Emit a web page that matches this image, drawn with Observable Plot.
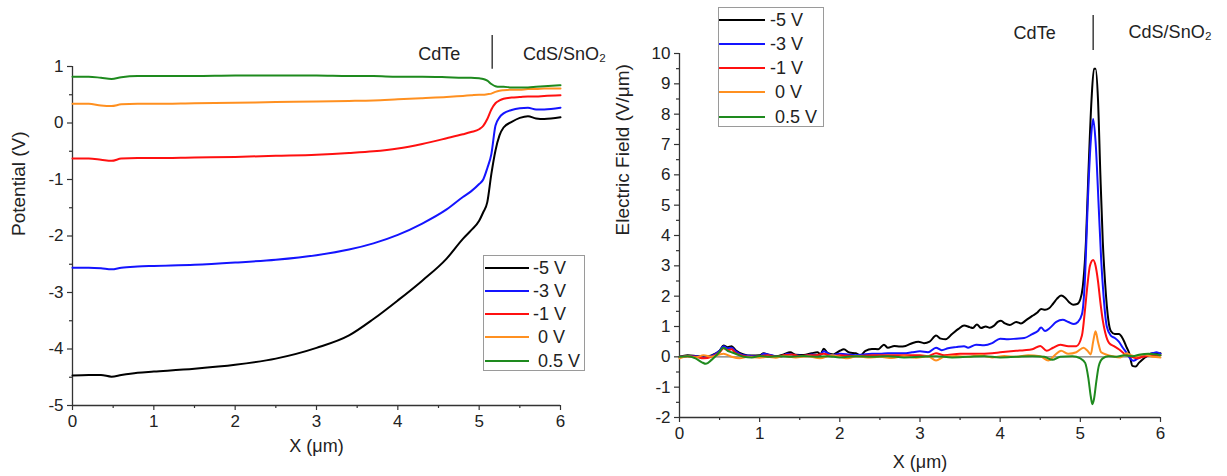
<!DOCTYPE html>
<html>
<head>
<meta charset="utf-8">
<script src="https://cdn.jsdelivr.net/npm/d3@7"></script>
<script src="https://cdn.jsdelivr.net/npm/@observablehq/plot@0.6"></script>
<style>
  html, body { margin: 0; padding: 0; background: #fff; }
  #wrap { position: relative; width: 1227px; height: 476px; overflow: hidden; font-family: "Liberation Sans", Arial, sans-serif; }
  .panel { position: absolute; top: 0; }
  .legend { position: absolute; border: 1px solid #9a9a9a; background: #fff; box-sizing: border-box; }
  .row { position: absolute; left: 0; height: 22px; display: flex; align-items: center; }
  .swatch { height: 2px; }
  .lab { white-space: pre; font-size: 18px; color: #222; line-height: 22px; }
</style>
</head>
<body>
<div id="wrap"></div>
<script>
// ---------------- data ----------------
const seriesLabels = ["-5 V", "-3 V", "-1 V", " 0 V", " 0.5 V"];
const seriesColors = ["#000000", "#1414ff", "#ff1010", "#ff9020", "#1e8a1e"];

// Left panel: potential (V) vs X (um)
const potX = [0, 0.2, 0.35, 0.48, 0.6, 0.8, 1.0, 1.5, 2.0, 2.5, 3.0, 3.4, 3.7, 4.0, 4.3, 4.6, 4.8, 4.9, 5.0, 5.05, 5.1, 5.15, 5.2, 5.25, 5.3, 5.4, 5.5, 5.6, 5.7, 5.8, 6.0];
const pot_m5 = [-4.47, -4.46, -4.46, -4.49, -4.46, -4.42, -4.40, -4.35, -4.28, -4.17, -3.98, -3.76, -3.47, -3.14, -2.79, -2.40, -2.05, -1.90, -1.73, -1.58, -1.40, -0.90, -0.49, -0.22, -0.08, 0.02, 0.09, 0.12, 0.08, 0.07, 0.10];
const pot_m3 = [-2.56, -2.56, -2.57, -2.59, -2.56, -2.54, -2.53, -2.51, -2.47, -2.42, -2.34, -2.24, -2.13, -1.98, -1.78, -1.53, -1.31, -1.21, -1.08, -1.00, -0.80, -0.55, -0.05, 0.10, 0.17, 0.23, 0.26, 0.27, 0.24, 0.24, 0.27];
const pot_m1 = [-0.63, -0.63, -0.65, -0.67, -0.63, -0.62, -0.62, -0.61, -0.60, -0.58, -0.56, -0.53, -0.50, -0.45, -0.37, -0.27, -0.20, -0.16, -0.11, -0.05, 0.07, 0.24, 0.35, 0.40, 0.43, 0.45, 0.46, 0.47, 0.47, 0.48, 0.49];
const pot_0  = [0.34, 0.34, 0.31, 0.30, 0.33, 0.34, 0.34, 0.35, 0.36, 0.37, 0.38, 0.39, 0.40, 0.42, 0.44, 0.46, 0.48, 0.49, 0.50, 0.50, 0.51, 0.52, 0.55, 0.57, 0.58, 0.59, 0.59, 0.60, 0.60, 0.61, 0.61];
const pot_05 = [0.82, 0.82, 0.80, 0.78, 0.81, 0.83, 0.83, 0.83, 0.84, 0.84, 0.84, 0.83, 0.83, 0.82, 0.82, 0.81, 0.80, 0.80, 0.79, 0.78, 0.75, 0.69, 0.65, 0.64, 0.64, 0.63, 0.63, 0.63, 0.64, 0.65, 0.67];

// Right panel: electric field (V/um) vs X (um), [x, E] pairs
const field_m5 = [[0,0],[0.1,0.05],[0.2,0.03],[0.3,0.0],[0.4,0.05],[0.5,0.2],[0.55,0.37],[0.6,0.32],[0.65,0.35],[0.7,0.22],[0.8,0.08],[0.9,0.04],[1.0,0.05],[1.05,0.12],[1.1,0.08],[1.2,0.02],[1.3,0.08],[1.38,0.15],[1.45,0.07],[1.55,0.06],[1.65,0.12],[1.72,0.15],[1.76,0.09],[1.8,0.27],[1.85,0.12],[1.92,0.08],[2.0,0.2],[2.05,0.25],[2.12,0.14],[2.2,0.12],[2.26,0.05],[2.32,0.2],[2.4,0.26],[2.48,0.25],[2.55,0.4],[2.6,0.3],[2.68,0.36],[2.75,0.34],[2.82,0.36],[2.9,0.45],[2.98,0.5],[3.05,0.45],[3.12,0.5],[3.2,0.7],[3.26,0.6],[3.32,0.58],[3.4,0.75],[3.48,0.92],[3.55,1.03],[3.62,0.98],[3.66,0.95],[3.71,1.07],[3.76,0.95],[3.82,1.0],[3.87,0.96],[3.92,1.02],[3.97,1.15],[4.01,1.19],[4.06,1.1],[4.12,1.05],[4.2,1.15],[4.26,1.1],[4.32,1.2],[4.4,1.35],[4.46,1.45],[4.51,1.58],[4.56,1.55],[4.61,1.6],[4.66,1.75],[4.71,1.92],[4.76,2.02],[4.81,1.95],[4.86,1.8],[4.91,1.72],[4.96,1.74],[5.0,1.9],[5.03,2.3],[5.07,3.8],[5.1,6.0],[5.14,8.5],[5.17,9.5],[5.19,9.5],[5.22,8.5],[5.25,6.0],[5.28,3.8],[5.31,2.4],[5.35,1.2],[5.38,0.85],[5.43,0.75],[5.48,0.75],[5.53,0.6],[5.58,0.3],[5.61,0.12],[5.65,-0.3],[5.69,-0.32],[5.73,-0.2],[5.78,-0.08],[5.83,0.02],[5.9,0.12],[5.95,0.1],[6.0,0.12]];
const field_m3 = [[0,0],[0.1,0.03],[0.2,0.02],[0.3,-0.02],[0.4,0.03],[0.5,0.2],[0.55,0.35],[0.6,0.28],[0.65,0.3],[0.7,0.18],[0.8,0.05],[0.9,0.03],[1.0,0.02],[1.05,0.1],[1.15,0.05],[1.25,0.0],[1.35,0.1],[1.45,0.05],[1.55,0.03],[1.65,0.08],[1.75,0.05],[1.8,0.18],[1.9,0.05],[2.0,0.1],[2.1,0.08],[2.2,0.05],[2.3,0.08],[2.4,0.1],[2.5,0.1],[2.6,0.12],[2.7,0.12],[2.8,0.12],[2.9,0.15],[3.0,0.18],[3.1,0.15],[3.2,0.3],[3.27,0.22],[3.35,0.28],[3.45,0.32],[3.55,0.35],[3.6,0.3],[3.7,0.4],[3.8,0.38],[3.9,0.45],[4.0,0.6],[4.1,0.58],[4.2,0.6],[4.3,0.62],[4.4,0.75],[4.47,0.85],[4.51,0.97],[4.56,0.85],[4.62,0.95],[4.7,1.15],[4.78,1.22],[4.85,1.15],[4.92,1.08],[4.97,1.15],[5.02,1.4],[5.06,2.7],[5.09,4.9],[5.13,7.1],[5.16,7.84],[5.19,7.1],[5.23,4.9],[5.26,3.2],[5.29,2.0],[5.33,1.0],[5.38,0.7],[5.43,0.62],[5.48,0.5],[5.53,0.3],[5.58,0.12],[5.62,-0.05],[5.66,-0.13],[5.72,-0.05],[5.8,0.05],[5.9,0.12],[5.95,0.15],[6.0,0.1]];
const field_m1 = [[0,0],[0.1,0.02],[0.2,0.0],[0.3,-0.05],[0.4,0.0],[0.5,0.15],[0.55,0.28],[0.6,0.22],[0.65,0.25],[0.7,0.12],[0.8,0.03],[0.9,0.0],[1.0,0.02],[1.1,0.05],[1.2,0.0],[1.3,0.05],[1.4,0.08],[1.5,0.02],[1.6,0.05],[1.7,0.05],[1.8,0.1],[1.9,0.02],[2.0,0.05],[2.2,0.02],[2.4,0.05],[2.6,0.05],[2.8,0.05],[3.0,0.05],[3.1,0.02],[3.2,0.12],[3.3,0.05],[3.5,0.1],[3.7,0.1],[3.9,0.12],[4.0,0.15],[4.2,0.2],[4.3,0.22],[4.4,0.25],[4.5,0.36],[4.58,0.2],[4.66,0.3],[4.75,0.4],[4.85,0.35],[4.95,0.35],[5.02,0.7],[5.06,1.6],[5.09,2.4],[5.12,3.0],[5.16,3.19],[5.19,3.0],[5.22,2.5],[5.25,1.8],[5.28,1.2],[5.31,0.8],[5.36,0.45],[5.42,0.35],[5.48,0.25],[5.55,0.1],[5.62,0.02],[5.7,-0.05],[5.78,0.0],[5.9,0.05],[6.0,0.05]];
const field_0  = [[0,-0.05],[0.1,0.02],[0.2,-0.02],[0.3,0.05],[0.4,0.0],[0.5,0.08],[0.55,0.1],[0.65,0.0],[0.75,-0.05],[0.85,0.0],[1.0,-0.03],[1.1,0.0],[1.2,-0.03],[1.3,0.03],[1.45,-0.02],[1.6,0.02],[1.75,-0.05],[1.9,0.05],[2.0,0.0],[2.1,-0.05],[2.2,0.02],[2.35,-0.02],[2.5,0.0],[2.65,-0.04],[2.8,0.02],[2.95,-0.03],[3.1,0.02],[3.2,-0.12],[3.3,0.0],[3.45,0.03],[3.6,0.0],[3.75,0.05],[3.9,-0.02],[4.05,0.03],[4.2,0.0],[4.35,0.05],[4.5,0.02],[4.6,-0.12],[4.68,0.05],[4.76,0.2],[4.85,0.1],[4.95,0.15],[5.04,0.3],[5.09,0.2],[5.13,0.08],[5.16,0.5],[5.19,0.84],[5.22,0.5],[5.26,0.15],[5.32,0.08],[5.4,0.02],[5.5,-0.02],[5.58,0.12],[5.63,0.05],[5.7,0.02],[5.8,0.08],[5.9,0.0],[6.0,-0.02]];
const field_05 = [[0,0],[0.1,0.02],[0.2,-0.05],[0.28,-0.18],[0.33,-0.23],[0.4,-0.1],[0.48,0.1],[0.55,0.3],[0.6,0.2],[0.65,0.15],[0.7,0.1],[0.8,0.0],[0.9,-0.02],[1.0,0.03],[1.1,0.0],[1.25,0.02],[1.4,0.0],[1.55,0.03],[1.7,0.0],[1.85,0.02],[2.0,-0.02],[2.2,0.02],[2.4,0.0],[2.6,0.02],[2.8,-0.02],[3.0,0.0],[3.2,0.02],[3.4,-0.02],[3.6,0.0],[3.8,0.02],[4.0,-0.02],[4.2,0.0],[4.4,0.02],[4.55,0.0],[4.65,-0.1],[4.75,0.0],[4.9,0.02],[5.0,-0.05],[5.06,-0.2],[5.1,-0.7],[5.13,-1.3],[5.15,-1.56],[5.17,-1.4],[5.2,-0.8],[5.23,-0.3],[5.28,-0.05],[5.35,0.02],[5.45,0.0],[5.55,0.05],[5.65,0.02],[5.75,0.08],[5.85,0.1],[6.0,0.05]];

// tick values
const xTicks = [0, 1, 2, 3, 4, 5, 6];
const xMinor = [0.5, 1.5, 2.5, 3.5, 4.5, 5.5];
const potTicks = [-5, -4, -3, -2, -1, 0, 1];
const potMinor = [-4.5, -3.5, -2.5, -1.5, -0.5, 0.5];
const fieldTicks = [-2, -1, 0, 1, 2, 3, 4, 5, 6, 7, 8, 9, 10];
const fieldMinor = [-1.5, -0.5, 0.5, 1.5, 2.5, 3.5, 4.5, 5.5, 6.5, 7.5, 8.5, 9.5];

// region annotations
const regionLabels = ["CdTe", "CdS/SnO\u2082"];
const interfaceX = 5.16;

// ---------------- build ----------------
const FONT = "'Liberation Sans', Arial, Helvetica, sans-serif";
const AX = "#333";

const potSeries = [pot_m5, pot_m3, pot_m1, pot_0, pot_05];
const potRows = potSeries.flatMap((s, i) => s.map((v, j) => ({x: potX[j], y: v, k: i})));
const fieldSeries = [field_m5, field_m3, field_m1, field_0, field_05];
const fieldRows = fieldSeries.flatMap((s, i) => s.map(([x, y]) => ({x, y, k: i})));

function axes(yTicks, yMinor, yMin, xLabel, yLabel, xLabOff, yLabOff) {
  return [
    Plot.axisX(xTicks, {tickSize: 5, tickPadding: 4, tickFormat: d => String(d), stroke: AX, strokeWidth: 1.2, fill: "#222", fontSize: 17, label: null}),
    Plot.axisX(xMinor, {tickSize: 3, text: null, stroke: AX, strokeWidth: 1.2, label: null}),
    Plot.axisY(yTicks, {tickSize: 5, tickPadding: 4, tickFormat: d => String(d), stroke: AX, strokeWidth: 1.2, fill: "#222", fontSize: 17, label: null}),
    Plot.axisY(yMinor, {tickSize: 3, text: null, stroke: AX, strokeWidth: 1.2, label: null}),
    Plot.ruleY([yMin], {stroke: AX, strokeWidth: 1.3}),
    Plot.ruleX([0], {stroke: AX, strokeWidth: 1.3}),
    Plot.text([xLabel], {frameAnchor: "bottom", dy: xLabOff, fontSize: 18, fill: "#222"}),
    Plot.text([yLabel], {frameAnchor: "left", dx: -yLabOff, rotate: -90, fontSize: 19, fill: "#222"})
  ];
}

function lines(rows, curve) {
  return seriesColors.map((c, i) =>
    Plot.line(rows.filter(d => d.k === i), {x: "x", y: "y", stroke: c, strokeWidth: 2, curve})
  );
}

const left = Plot.plot({
  width: 610, height: 476,
  marginLeft: 72, marginRight: 50, marginTop: 66, marginBottom: 71,
  x: {domain: [0, 6]}, y: {domain: [-5, 1]},
  style: {fontFamily: FONT, fontSize: "17px", background: "transparent", overflow: "visible"},
  marks: [
    ...axes(potTicks, potMinor, -5, "X (\u03bcm)", "Potential (V)", 46, 54),
    ...lines(potRows, "monotone-x"),
    Plot.ruleX([interfaceX], {y1: 0.95, y2: 1.55, stroke: "#222", strokeWidth: 1.3}),
    Plot.text([regionLabels[0]], {x: 4.51, y: 1.22, fontSize: 18, fill: "#222"}),
    Plot.text([regionLabels[1]], {x: 6.05, y: 1.22, fontSize: 18, fill: "#222"})
  ]
});

const right = Plot.plot({
  width: 617, height: 476,
  marginLeft: 69, marginRight: 67, marginTop: 53, marginBottom: 59,
  x: {domain: [0, 6]}, y: {domain: [-2, 10]},
  style: {fontFamily: FONT, fontSize: "17px", background: "transparent", overflow: "visible"},
  marks: [
    Plot.ruleY([0], {stroke: "#777", strokeWidth: 1.2}),
    ...axes(fieldTicks, fieldMinor, -2, "X (\u03bcm)", "Electric Field (V/\u03bcm)", 50, 57),
    ...lines(fieldRows, "monotone-x"),
    Plot.ruleX([interfaceX], {y1: 10.1, y2: 11.25, stroke: "#222", strokeWidth: 1.3}),
    Plot.text([regionLabels[0]], {x: 4.43, y: 10.68, fontSize: 18, fill: "#222"}),
    Plot.text([regionLabels[1]], {x: 6.12, y: 10.7, fontSize: 18, fill: "#222"})
  ]
});

const wrap = document.getElementById("wrap");
const pl = document.createElement("div"); pl.className = "panel"; pl.style.left = "0px"; pl.appendChild(left);
const pr = document.createElement("div"); pr.className = "panel"; pr.style.left = "610px"; pr.appendChild(right);
wrap.appendChild(pl); wrap.appendChild(pr);

function legend(box, rowsY, lineX0, lineLen, textX) {
  const lg = document.createElement("div");
  lg.className = "legend";
  Object.assign(lg.style, {left: box[0] + "px", top: box[1] + "px", width: (box[2] - box[0]) + "px", height: (box[3] - box[1]) + "px"});
  seriesLabels.forEach((lab, i) => {
    const row = document.createElement("div");
    row.className = "row";
    row.style.top = (rowsY[i] - box[1] - 11) + "px";
    row.style.left = (lineX0 - box[0] - 1) + "px";
    const sw = document.createElement("div");
    sw.className = "swatch";
    sw.style.width = lineLen + "px";
    sw.style.background = seriesColors[i];
    const t = document.createElement("span");
    t.className = "lab";
    t.style.marginLeft = (textX - lineX0 - lineLen) + "px";
    t.textContent = lab;
    row.appendChild(sw); row.appendChild(t);
    lg.appendChild(row);
  });
  wrap.appendChild(lg);
}
legend([483, 255, 585, 371], [267, 290, 313, 336, 360], 485, 44, 533);
legend([718, 7, 824, 127], [19, 43, 67, 91, 116], 719, 46, 770);
</script>
</body>
</html>
